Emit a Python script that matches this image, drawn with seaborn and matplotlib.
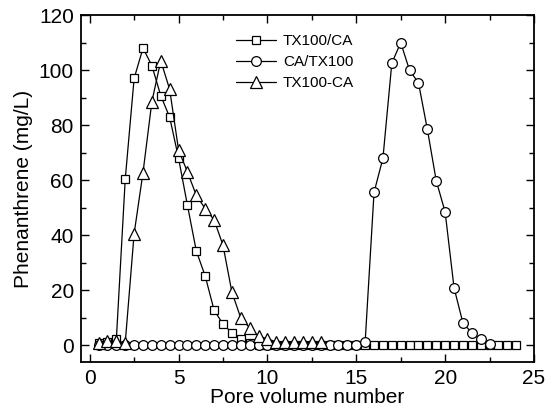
import numpy as np
import pandas as pd
import matplotlib
matplotlib.use("Agg")
import matplotlib.pyplot as plt
import seaborn as sns
from matplotlib.ticker import MultipleLocator

# pore volume number, step 0.5
x_tx100_ca = [0.5, 1.0, 1.5, 2.0, 2.5, 3.0, 3.5, 4.0, 4.5, 5.0, 5.5, 6.0, 6.5, 7.0, 7.5, 8.0,
              8.5, 9.0, 9.5, 10.0, 10.5, 11.0, 11.5, 12.0, 12.5, 13.0, 13.5, 14.0, 14.5, 15.0,
              15.5, 16.0, 16.5, 17.0, 17.5, 18.0, 18.5, 19.0, 19.5, 20.0, 20.5, 21.0, 21.5,
              22.0, 22.5, 23.0, 23.5, 24.0]
y_tx100_ca = [1.0, 1.2, 2.2, 60.4, 97.0, 108.0, 101.6, 90.7, 82.9, 68.0, 50.9, 34.3, 25.2, 12.8,
              7.8, 4.6, 2.2, 0.8, 0.3, 0.2, 0.1, 0.0, 0.0, 0.0, 0.0, 0.0, 0.0, 0.0, 0.0, 0.0,
              0.0, 0.0, 0.0, 0.0, 0.0, 0.0, 0.0, 0.0, 0.0, 0.0, 0.0, 0.0, 0.0, 0.0, 0.0, 0.0,
              0.0, 0.0]

x_ca_tx100 = [0.5, 1.0, 1.5, 2.0, 2.5, 3.0, 3.5, 4.0, 4.5, 5.0, 5.5, 6.0, 6.5, 7.0, 7.5, 8.0,
              8.5, 9.0, 9.5, 10.0, 10.5, 11.0, 11.5, 12.0, 12.5, 13.0, 13.5, 14.0, 14.5, 15.0,
              15.5, 16.0, 16.5, 17.0, 17.5, 18.0, 18.5, 19.0, 19.5, 20.0, 20.5, 21.0, 21.5,
              22.0, 22.5]
y_ca_tx100 = [0.3, 0.3, 0.3, 0.3, 0.3, 0.3, 0.3, 0.3, 0.3, 0.3, 0.3, 0.3, 0.3, 0.3, 0.3, 0.3,
              0.3, 0.3, 0.3, 0.3, 0.3, 0.3, 0.3, 0.3, 0.3, 0.3, 0.3, 0.3, 0.3, 0.3,
              1.3, 55.6, 68.0, 102.5, 110.0, 99.9, 95.4, 78.5, 59.8, 48.5, 21.0, 8.2, 4.6,
              2.2, 0.6]

x_tx100_ca2 = [0.5, 1.0, 1.5, 2.0, 2.5, 3.0, 3.5, 4.0, 4.5, 5.0, 5.5, 6.0, 6.5, 7.0, 7.5, 8.0,
               8.5, 9.0, 9.5, 10.0, 10.5, 11.0, 11.5, 12.0, 12.5, 13.0]
y_tx100_ca2 = [1.0, 1.5, 1.5, 1.0, 40.6, 62.8, 88.6, 103.4, 93.0, 71.0, 63.0, 54.5, 49.7, 45.6,
               36.4, 19.4, 10.0, 6.4, 3.4, 2.4, 1.3, 1.1, 1.1, 1.1, 1.1, 1.1]

labels = ["TX100/CA", "CA/TX100", "TX100-CA"]

sns.set_style("ticks")
plt.rcParams['font.family'] = ['Liberation Sans', 'DejaVu Sans']
plt.rcParams['font.size'] = 15
plt.rcParams['text.color'] = 'black'
plt.rcParams['axes.labelcolor'] = 'black'
plt.rcParams['xtick.color'] = 'black'
plt.rcParams['ytick.color'] = 'black'
plt.rcParams['axes.edgecolor'] = 'black'

fig = plt.figure(figsize=(5.46, 4.18), dpi=100)
ax = fig.add_axes([0.148, 0.134, 0.83, 0.830])

series = [
    (x_tx100_ca, y_tx100_ca, 's', 6.0),
    (x_ca_tx100, y_ca_tx100, 'o', 7.0),
    (x_tx100_ca2, y_tx100_ca2, '^', 8.0),
]
for (xs, ys, mk, ms), lab in zip(series, labels):
    df = pd.DataFrame({"x": xs, "y": ys})
    sns.lineplot(data=df, x="x", y="y", ax=ax, color='black', lw=0.9,
                 marker=mk, markersize=ms, markerfacecolor='white',
                 markeredgecolor='black', markeredgewidth=0.9, label=lab)

ax.set_xlim(-0.5, 25)
ax.set_ylim(-6, 120)
ax.xaxis.set_major_locator(MultipleLocator(5))
ax.xaxis.set_minor_locator(MultipleLocator(2.5))
ax.yaxis.set_major_locator(MultipleLocator(20))
ax.yaxis.set_minor_locator(MultipleLocator(10))
ax.tick_params(which='both', direction='in', top=True, right=True, width=1.0,
               labelsize=15, pad=5)
ax.tick_params(which='major', length=6)
ax.tick_params(which='minor', length=3.5)
for s in ax.spines.values():
    s.set_linewidth(1.3)

ax.set_xlabel('Pore volume number', fontsize=15, labelpad=0)
ax.set_ylabel('Phenanthrene (mg/L)', fontsize=15, labelpad=4)

leg = ax.legend(loc='upper left', bbox_to_anchor=(0.33, 0.962), frameon=False,
                fontsize=11, handlelength=2.6, handletextpad=0.45, labelspacing=0.45,
                borderaxespad=0)

fig.savefig('out.png', dpi=100)
